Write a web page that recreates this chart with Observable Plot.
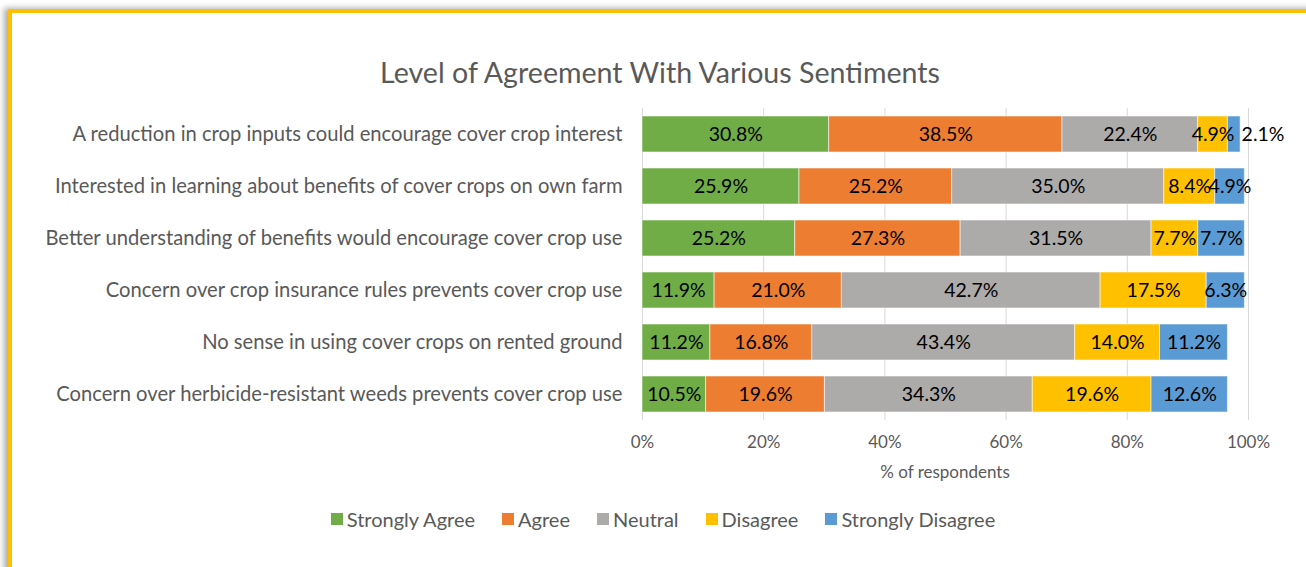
<!DOCTYPE html>
<html>
<head>
<meta charset="utf-8">
<script src="https://cdn.jsdelivr.net/npm/d3@7"></script>
<script src="https://cdn.jsdelivr.net/npm/@observablehq/plot@0.6"></script>
<style>
  html, body { margin: 0; padding: 0; background: #fff; width: 1306px; height: 567px; overflow: hidden; }
  body { position: relative; font-family: Lato, "Noto Sans", sans-serif; }
  #frame {
    position: absolute; left: 8px; top: 9px; width: 1400px; height: 700px;
    border-top: 4px solid #FFC000; border-left: 4px solid #FFC000;
    box-shadow: -4px -1px 6px rgba(0,0,0,0.32); background: #fff;
  }
  #title {
    position: absolute; left: 0; width: 1320px; top: 53px; text-align: center;
    font-size: 28.6px; line-height: 38px; color: #595959;
  }
  #chart { position: absolute; left: 0; top: 0; }
  #xtitle {
    position: absolute; left: 845px; width: 200px; top: 461px; text-align: center;
    font-size: 17px; line-height: 22px; color: #595959;
  }
  #legend { position: absolute; left: 0; width: 1326px; top: 507px; display: flex; justify-content: center; }
  .lg-swatches { margin: 0 !important; min-height: 0 !important; }
  .lg-swatch { margin-right: 27px !important; }
  .lg-swatch:last-child { margin-right: 0 !important; }
  .lg-swatch > svg { margin-right: 4px !important; }
</style>
</head>
<body>
<div id="frame"></div>
<div id="title">Level of Agreement With Various Sentiments</div>
<div id="chart"></div>
<div id="xtitle">% of respondents</div>
<div id="legend"></div>
<script>
// Survey statements, top to bottom
const statements = [
  "A reduction in crop inputs could encourage cover crop interest",
  "Interested in learning about benefits of cover crops on own farm",
  "Better understanding of benefits would encourage cover crop use",
  "Concern over crop insurance rules prevents cover crop use",
  "No sense in using cover crops on rented ground",
  "Concern over herbicide-resistant weeds prevents cover crop use"
];

// Response levels and their colours
const levels = ["Strongly Agree", "Agree", "Neutral", "Disagree", "Strongly Disagree"];
const levelColors = ["#70AD47", "#ED7D31", "#ADAAAA", "#FFC000", "#5B9BD5"];

// % of respondents per level, one value per statement
const stronglyAgree    = [30.8, 25.9, 25.2, 11.9, 11.2, 10.5];
const agree            = [38.5, 25.2, 27.3, 21.0, 16.8, 19.6];
const neutral          = [22.4, 35.0, 31.5, 42.7, 43.4, 34.3];
const disagree         = [4.9, 8.4, 7.7, 17.5, 14.0, 19.6];
const stronglyDisagree = [2.1, 4.9, 7.7, 6.3, 11.2, 12.6];

const xTicks = [0, 20, 40, 60, 80, 100];

const series = [stronglyAgree, agree, neutral, disagree, stronglyDisagree];
const rows = [];
statements.forEach((q, i) => {
  levels.forEach((level, j) => rows.push({ q, level, value: series[j][i] }));
});

const fmt = v => v.toFixed(1) + "%";
const fontFamily = "Lato, 'Noto Sans', sans-serif";

// labels too small for their segment sit just past the end of the bar
const endStack = Plot.stackX({ x: "value", y: "q", z: "level", text: d => d.value < 3 ? fmt(d.value) : "" });

const chart = Plot.plot({
  width: 1306,
  height: 490,
  marginLeft: 642,
  marginRight: 58,
  marginTop: 108,
  marginBottom: 70,
  style: { fontFamily, background: "transparent", overflow: "visible" },
  x: { domain: [0, 100] },
  y: { domain: statements, paddingInner: 0.31, paddingOuter: 0.155 },
  color: { domain: levels, range: levelColors },
  marks: [
    Plot.gridX(xTicks, { stroke: "#D9D9D9", strokeOpacity: 1, strokeWidth: 1 }),
    Plot.barX(rows, Plot.stackX({
      x: "value", y: "q", fill: "level",
      stroke: "#ffffff", strokeOpacity: 0.55, strokeWidth: 1
    })),
    Plot.text(rows, Plot.stackX({
      x: "value", y: "q", z: "level",
      text: d => d.value >= 3 ? fmt(d.value) : "",
      fill: "#000", fontSize: 19.5
    })),
    Plot.text(rows, { ...endStack, x: endStack.x2, textAnchor: "start", dx: 1, fill: "#000", fontSize: 19.5 }),
    Plot.axisX(xTicks, {
      tickSize: 0, tickPadding: 15, tickFormat: d => d + "%",
      fontSize: 17, color: "#595959", label: null
    }),
    Plot.axisY({ tickSize: 0, tickPadding: 20, fontSize: 20.2, color: "#595959", label: null })
  ]
});
document.getElementById("chart").appendChild(chart);

const legend = Plot.legend({
  color: { domain: levels, range: levelColors },
  legend: "swatches",
  swatchSize: 12,
  className: "lg",
  style: { fontSize: "20px", color: "#595959", fontFamily }
});
document.getElementById("legend").appendChild(legend);
</script>
</body>
</html>
